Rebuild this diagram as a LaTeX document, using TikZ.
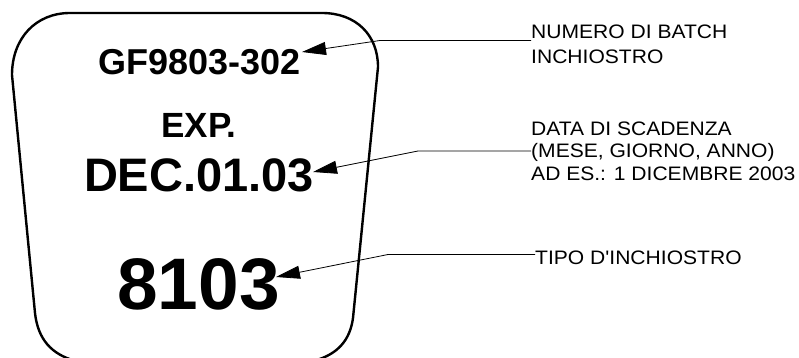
\documentclass[tikz,border=0pt]{standalone}
\usepackage{fontspec}
\setmainfont{Liberation Sans}
\newfontfamily\labfont{Liberation Sans}[FakeStretch=1.08]
\usetikzlibrary{arrows.meta}
\tikzset{
  outline/.style={line width=2.4pt, line join=round},
  bigtext/.style={font=\bfseries, inner sep=0pt, anchor=base},
  labtext/.style={inner sep=0pt, anchor=base west, align=left},
  leader/.style={line width=0.8pt, -{Triangle[length=24pt,width=13pt]}}
}
\begin{document}
\begin{tikzpicture}[x=1pt,y=-1pt]
\useasboundingbox (0,0) rectangle (799,358);
% label outline (its bottom edge lies just below the picture)
\draw[outline] (70,13) -- (322,13)
  .. controls (356,13) and (378,35) .. (378,67)
  -- (353,318)
  .. controls (350,340) and (338,354) .. (315,360.5)
  -- (74,360.5)
  .. controls (52,354) and (38,340) .. (35,313)
  -- (12,75)
  .. controls (12,38) and (36,13) .. (70,13);
% printed texts
\node[bigtext, font=\bfseries\fontsize{36}{36}\selectfont] (batch) at (199.5,75) {GF9803-302};
\node[bigtext, font=\bfseries\fontsize{35}{35}\selectfont] (exp) at (199,138) {EXP.};
\node[bigtext, font=\bfseries\fontsize{47}{47}\selectfont] (date) at (199,191) {DEC.01.03};
\node[bigtext, font=\bfseries\fontsize{73}{73}\selectfont] (type) at (198.5,309) {8103};
% explanatory labels (base anchor = baseline of last line)
\node[labtext, font=\labfont\fontsize{19.5}{24.5}\selectfont] (l1) at (531,63.5) {NUMERO DI BATCH\\INCHIOSTRO};
\node[labtext, font=\labfont\fontsize{19.5}{22.5}\selectfont] (l2) at (531,180) {DATA DI SCADENZA\\(MESE, GIORNO, ANNO)\\AD ES.: 1 DICEMBRE 2003};
\node[labtext, font=\labfont\fontsize{19.5}{21.5}\selectfont] (l3) at (535,264) {TIPO D'INCHIOSTRO};
% leader bends and tips
\coordinate (b1) at (380,40.5);
\coordinate (t1) at (302,52);
\coordinate (b2) at (418,151);
\coordinate (t2) at (313,172);
\coordinate (b3) at (388,254.5);
\coordinate (t3) at (276,277);
\draw[leader] (l1.west |- b1) -- (b1) -- (t1);
\draw[leader] (l2.west |- b2) -- (b2) -- (t2);
\draw[leader] (l3.west |- b3) -- (b3) -- (t3);
\end{tikzpicture}
\end{document}
